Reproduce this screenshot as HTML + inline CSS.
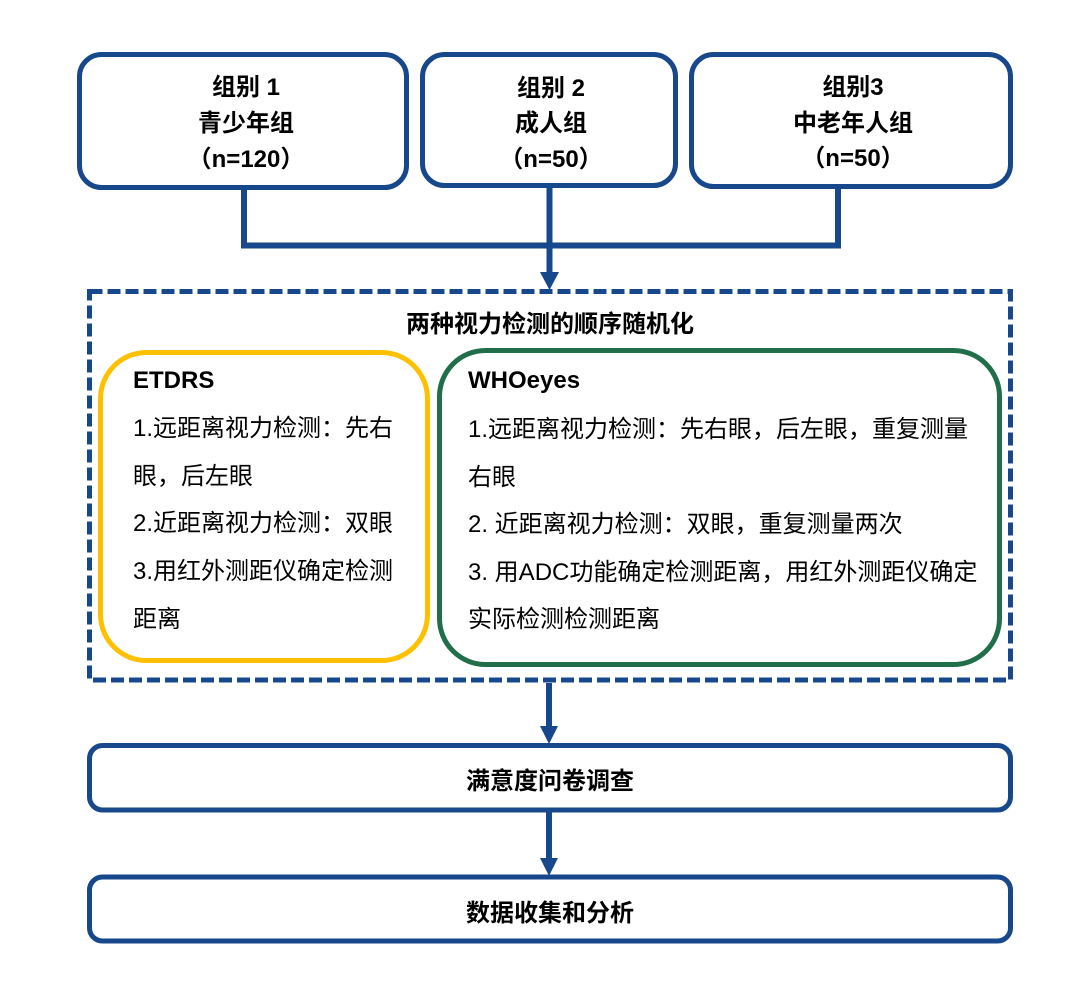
<!DOCTYPE html>
<html>
<head>
<meta charset="utf-8">
<style>
  html,body{margin:0;padding:0;background:#fff;}
  svg{display:block;}
  .b{font-family:"Liberation Sans","Noto Sans CJK SC",sans-serif;font-weight:bold;font-size:24px;fill:#000;}
  .r{font-family:"Liberation Sans","Noto Sans CJK SC",sans-serif;font-weight:normal;font-size:24px;fill:#000;}
</style>
</head>
<body>
<svg width="1080" height="994" viewBox="0 0 1080 994" xmlns="http://www.w3.org/2000/svg">
  <rect x="0" y="0" width="1080" height="994" fill="#fff"/>

  <!-- top group boxes -->
  <g fill="none" stroke="#17488C" stroke-width="5">
    <rect x="79.5" y="54.5" width="327" height="133" rx="22" ry="22"/>
    <rect x="422.5" y="54.5" width="253" height="131" rx="22" ry="22"/>
    <rect x="691.5" y="54.5" width="319" height="132" rx="22" ry="22"/>
  </g>

  <!-- connectors -->
  <g fill="none" stroke="#17488C" stroke-width="6">
    <polyline points="244,190 244,245.5 838,245.5 838,189"/>
    <line x1="549.5" y1="188" x2="549.5" y2="276"/>
    <line x1="549" y1="683" x2="549" y2="730"/>
    <line x1="549" y1="812" x2="549" y2="862"/>
  </g>
  <g fill="#17488C">
    <polygon points="540,272 559,272 549.5,290"/>
    <polygon points="540,726 558,726 549,744"/>
    <polygon points="540,858 558,858 549,876"/>
  </g>

  <!-- dashed container -->
  <rect x="89.5" y="291.5" width="921" height="388.5" fill="none" stroke="#17488C" stroke-width="5" stroke-dasharray="13 5"/>

  <!-- ETDRS box -->
  <rect x="100.5" y="352.5" width="327" height="308" rx="46" ry="46" fill="none" stroke="#FFC000" stroke-width="5"/>
  <!-- WHOeyes box -->
  <rect x="439.5" y="350.5" width="560" height="314" rx="46" ry="46" fill="none" stroke="#216E4A" stroke-width="5"/>

  <!-- bottom boxes -->
  <g fill="none" stroke="#17488C" stroke-width="5">
    <rect x="89.5" y="745.5" width="921" height="64.5" rx="13" ry="13"/>
    <rect x="89.5" y="877" width="921" height="64" rx="13" ry="13"/>
  </g>

  <!-- top box text -->
  <g class="b" text-anchor="middle">
    <text x="246" y="95">组别 1</text>
    <text x="246" y="131">青少年组</text>
    <text x="246" y="167">（n=120）</text>

    <text x="551" y="96">组别 2</text>
    <text x="551" y="131">成人组</text>
    <text x="551" y="167">（n=50）</text>

    <text x="853" y="95">组别3</text>
    <text x="853" y="131">中老年人组</text>
    <text x="853" y="166">（n=50）</text>

    <text x="550" y="332">两种视力检测的顺序随机化</text>
    <text x="550" y="789">满意度问卷调查</text>
    <text x="550" y="921">数据收集和分析</text>
  </g>

  <!-- ETDRS text -->
  <text class="b" x="133" y="388">ETDRS</text>
  <g class="r">
    <text x="133" y="436">1.远距离视力检测：先右</text>
    <text x="133" y="484">眼，后左眼</text>
    <text x="133" y="531">2.近距离视力检测：双眼</text>
    <text x="133" y="579">3.用红外测距仪确定检测</text>
    <text x="133" y="627">距离</text>
  </g>

  <!-- WHOeyes text -->
  <text class="b" x="468" y="388">WHOeyes</text>
  <g class="r">
    <text x="468" y="437">1.远距离视力检测：先右眼，后左眼，重复测量</text>
    <text x="468" y="485">右眼</text>
    <text x="468" y="532">2. 近距离视力检测：双眼，重复测量两次</text>
    <text x="468" y="580">3. 用ADC功能确定检测距离，用红外测距仪确定</text>
    <text x="468" y="627">实际检测检测距离</text>
  </g>
</svg>
</body>
</html>
